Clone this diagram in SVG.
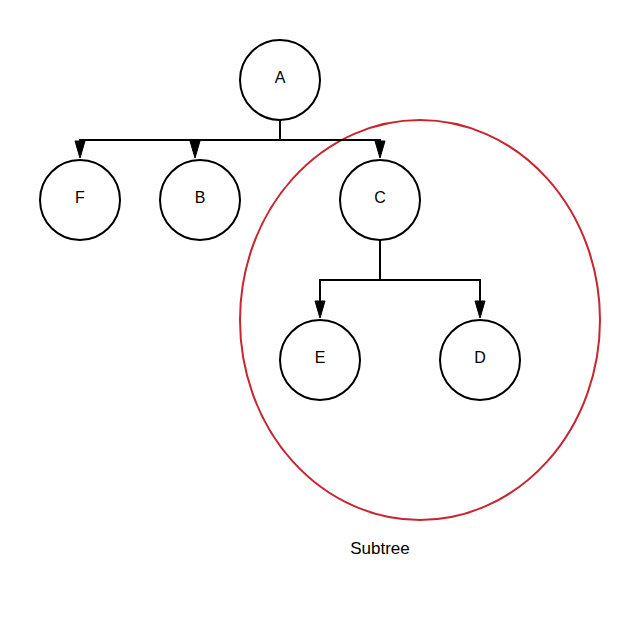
<svg xmlns="http://www.w3.org/2000/svg" width="640" height="620" viewBox="0 0 640 620">
<style>
.n{fill:#fff;stroke:#000;stroke-width:2}
.t{font-family:"Liberation Sans",Arial,sans-serif;font-size:16px;fill:#000;text-anchor:middle}
.e{fill:none;stroke:#000;stroke-width:2}
.a{fill:#000;stroke:#000;stroke-width:1}
</style>
<rect width="640" height="620" fill="#fff"/>
<ellipse id="subtree" cx="420" cy="320" rx="180" ry="200" fill="none" stroke="#c7252f" stroke-width="2"/>
<g id="connectors">
<path class="e" d="M280,120 V140 H80 V143"/>
<path class="e" d="M280,140 H195 V143"/>
<path class="e" d="M280,140 H380 V143"/>
<path class="e" d="M380,240 V280 H320 V303"/>
<path class="e" d="M380,280 H480 V303"/>
<path class="a" d="M75,141 L85,141 L80,158 Z"/>
<path class="a" d="M190,141 L200,141 L195,158 Z"/>
<path class="a" d="M375,141 L385,141 L380,158 Z"/>
<path class="a" d="M315,301 L325,301 L320,318 Z"/>
<path class="a" d="M475,301 L485,301 L480,318 Z"/>
</g>
<g id="A"><circle class="n" cx="280" cy="80" r="40"/><text class="t" x="280" y="83">A</text></g>
<g id="F"><circle class="n" cx="80" cy="200" r="40"/><text class="t" x="80" y="203">F</text></g>
<g id="B"><circle class="n" cx="200" cy="200" r="40"/><text class="t" x="200" y="203">B</text></g>
<g id="C"><circle class="n" cx="380" cy="200" r="40"/><text class="t" x="380" y="203">C</text></g>
<g id="E"><circle class="n" cx="320" cy="360" r="40"/><text class="t" x="320" y="363">E</text></g>
<g id="D"><circle class="n" cx="480" cy="360" r="40"/><text class="t" x="480" y="363">D</text></g>
<text class="t" x="380" y="554" style="font-size:17px">Subtree</text>
</svg>
